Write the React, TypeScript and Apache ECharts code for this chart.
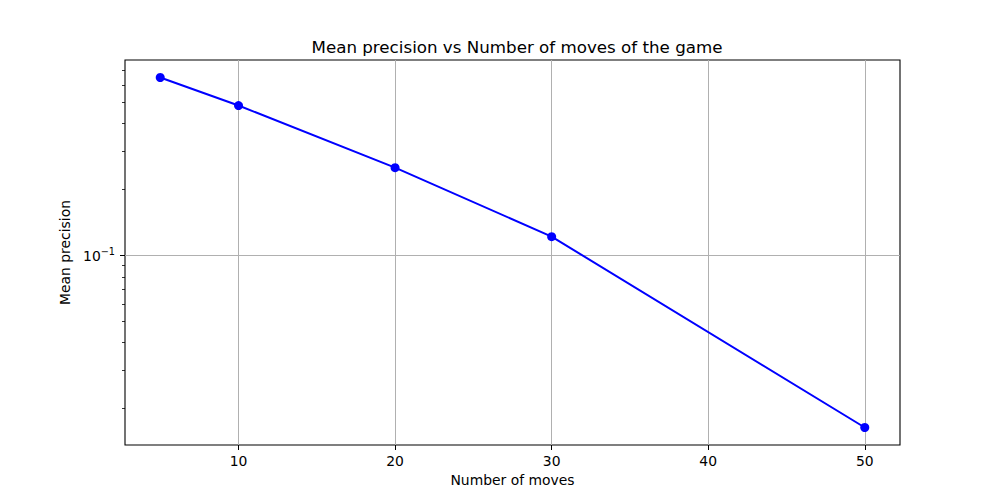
import React, { useEffect, useRef } from "react";
import * as echarts from "echarts";

const titleText = "Mean precision vs Number of moves of the game";
const xName = "Number of moves";
const yName = "Mean precision";
const movesX = [5, 10, 20, 30, 50];
const precision = [0.65, 0.484, 0.252, 0.122, 0.0164];
const xTicks = [10, 20, 30, 40, 50];
const yMajorTicks = [0.1];
const yMinorTicks = [0.02, 0.03, 0.04, 0.05, 0.06, 0.07, 0.08, 0.09, 0.2, 0.3, 0.4, 0.5, 0.6, 0.7];

const FONT = "DejaVu Sans";

export default function App() {
  const ref = useRef<HTMLDivElement>(null);
  useEffect(() => {
    if (!ref.current) return;
    const chart = echarts.init(ref.current, null, { renderer: "svg" });
    const xMin = 5 - 0.05 * 45;
    const xMax = 50 + 0.05 * 45;
    const lmin = Math.log10(Math.min(...precision));
    const lmax = Math.log10(Math.max(...precision));
    const pad = 0.05 * (lmax - lmin);
    const yMin = Math.pow(10, lmin - pad);
    const yMax = Math.pow(10, lmax + pad);
    const tickStyle = { color: "#000", width: 1 };
    chart.setOption({
      animation: false,
      backgroundColor: "#fff",
      textStyle: { fontFamily: FONT },
      title: {
        text: titleText,
        left: 512,
        top: 33,
        textAlign: "center",
        textStyle: { fontFamily: FONT, fontSize: 16.7, fontWeight: "normal", color: "#000" },
      },
      grid: {
        left: 125,
        right: 100,
        top: 60,
        bottom: 55,
        show: true,
        borderColor: "#000",
        borderWidth: 1.1,
        backgroundColor: "transparent",
      },
      xAxis: {
        type: "value",
        min: xMin,
        max: xMax,
        name: xName,
        nameLocation: "middle",
        nameGap: 27,
        nameTextStyle: { fontFamily: FONT, fontSize: 13.9, color: "#000" },
        axisLine: { show: false },
        axisTick: { show: true, length: 5, lineStyle: tickStyle, customValues: xTicks },
        axisLabel: {
          customValues: xTicks,
          margin: 9,
          fontFamily: FONT,
          fontSize: 13.9,
          color: "#000",
        },
        splitLine: { show: true, lineStyle: { color: "#b0b0b0", width: 1 } },
      },
      yAxis: [
        {
          type: "log",
          logBase: 10,
          min: yMin,
          max: yMax,
          name: yName,
          nameLocation: "middle",
          nameGap: 47,
          nameTextStyle: { fontFamily: FONT, fontSize: 13.9, color: "#000" },
          axisLine: { show: false },
          axisTick: { show: true, length: 5, lineStyle: tickStyle, customValues: yMajorTicks },
          axisLabel: {
            customValues: yMajorTicks,
            margin: 10,
            formatter: () => "{b|10}{s|−1}",
            rich: {
              b: { fontFamily: FONT, fontSize: 13.9, color: "#000" },
              s: { fontFamily: FONT, fontSize: 9.7, color: "#000", padding: [0, 0, 8, 0] },
            },
          },
          splitLine: { show: true, lineStyle: { color: "#b0b0b0", width: 1 } },
        },
        {
          type: "log",
          logBase: 10,
          min: yMin,
          max: yMax,
          position: "left",
          axisLine: { show: false },
          axisTick: { show: true, length: 3, lineStyle: { color: "#000", width: 0.8 }, customValues: yMinorTicks },
          axisLabel: { show: false },
          splitLine: { show: false },
        },
      ],
      series: [
        {
          type: "line",
          data: movesX.map((x, i) => [x, precision[i]]),
          yAxisIndex: 0,
          symbol: "circle",
          symbolSize: 9,
          itemStyle: { color: "#0000ff" },
          lineStyle: { color: "#0000ff", width: 2 },
        },
      ],
    });
    return () => chart.dispose();
  }, []);
  return (
    <div
      ref={ref}
      style={{ position: "absolute", left: 0, top: 0, width: 1000, height: 500 }}
    />
  );
}
